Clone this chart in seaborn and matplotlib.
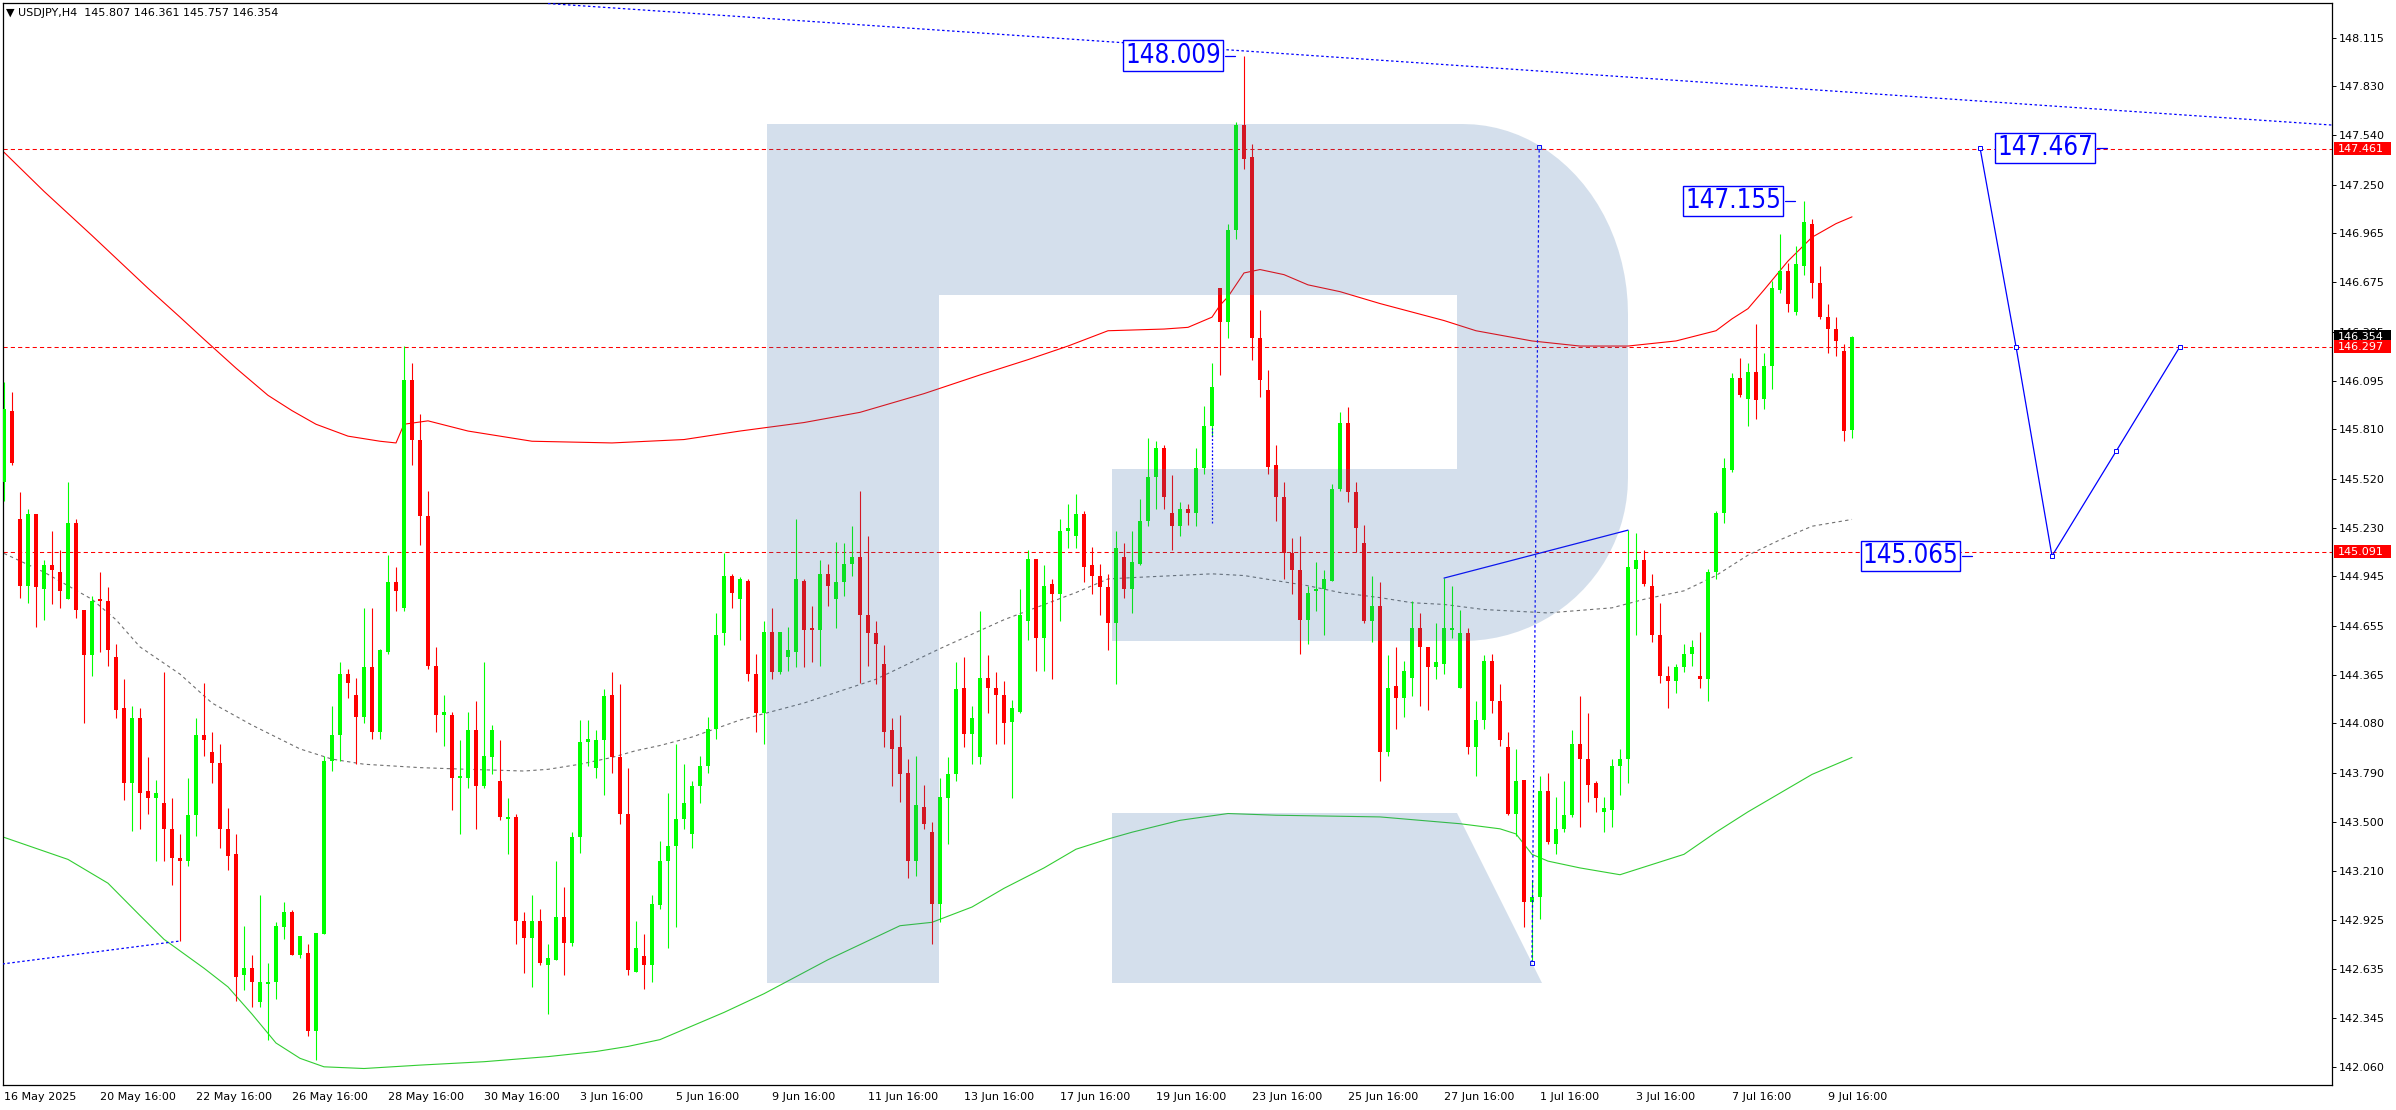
import numpy as np
import pandas as pd
import matplotlib
matplotlib.use("Agg")
import matplotlib.pyplot as plt
import matplotlib.font_manager as fm
import seaborn as sns
from matplotlib.path import Path
from matplotlib.patches import PathPatch, Rectangle

# USDJPY H4 candles
opens = [145.50,145.92,145.28,144.89,145.31,144.87,145.01,144.97,144.81,145.26,
144.75,144.48,144.81,144.80,144.47,144.17,143.73,144.11,143.68,143.64,
143.61,143.46,143.29,143.27,143.54,144.01,143.91,143.85,143.46,143.31,
142.60,142.64,142.44,142.55,142.56,142.88,142.97,142.72,142.73,142.27,
142.84,143.86,144.01,144.37,144.25,144.12,144.41,144.03,144.50,144.91,
144.76,146.10,145.75,145.30,144.42,144.13,144.13,143.76,143.76,144.04,
143.71,143.88,143.74,143.52,143.53,142.92,142.82,142.92,142.66,142.69,
142.94,142.79,143.41,143.97,143.82,143.98,144.25,143.88,143.55,142.62,
142.71,142.66,143.01,143.27,143.36,143.52,143.43,143.71,143.83,144.05,
144.61,144.95,144.81,144.92,144.37,144.14,144.62,144.38,144.47,144.50,
144.92,144.64,144.63,144.96,144.81,144.91,145.02,145.06,144.72,144.61,
144.43,144.04,143.94,143.79,143.27,143.59,143.44,143.02,143.64,143.78,
144.29,144.02,143.88,144.35,144.29,144.25,144.09,144.15,144.68,145.05,
144.58,144.90,144.84,145.21,145.18,145.31,145.01,144.95,144.88,144.67,
145.06,144.87,145.02,145.27,145.53,145.70,145.32,145.24,145.34,145.32,
145.58,145.83,146.64,146.44,146.98,147.60,147.41,146.35,146.04,145.60,
145.41,145.08,144.98,144.69,144.86,144.87,144.92,145.46,145.85,145.44,
145.14,144.68,144.77,143.91,144.30,144.23,144.35,144.64,144.53,144.41,
144.43,144.63,144.29,144.61,143.94,144.10,144.45,144.21,143.94,143.55,
143.75,143.03,143.06,143.68,143.37,143.46,143.54,143.96,143.87,143.73,
143.56,143.57,143.83,143.87,144.99,145.04,144.89,144.60,144.36,144.33,
144.41,144.49,144.36,144.34,144.97,145.32,145.57,146.11,145.99,146.15,
145.99,146.18,146.63,146.74,146.50,146.77,147.02,146.67,146.47,146.40,
146.27,145.807]
highs = [146.09,146.03,145.44,145.34,145.31,145.04,145.21,145.10,145.50,145.28,
144.75,144.83,144.97,144.88,144.55,144.34,144.18,144.17,143.88,143.75,
144.38,143.64,143.43,143.76,144.11,144.32,144.03,143.96,143.58,143.43,
142.89,142.72,143.07,142.67,142.91,143.03,142.98,142.83,142.78,142.85,
143.89,144.18,144.44,144.40,144.35,144.76,144.76,144.52,145.07,145.00,
146.30,146.20,145.90,145.45,144.53,144.25,144.15,143.98,144.15,144.21,
144.44,144.07,143.98,143.64,143.55,142.97,143.07,142.99,142.78,143.27,
143.12,143.44,144.10,144.10,144.04,144.28,144.38,144.31,143.82,142.92,
142.84,143.07,143.39,143.67,143.96,143.84,143.74,143.89,144.12,144.73,
145.08,144.96,144.94,144.93,144.49,144.68,144.76,144.62,144.65,145.28,
144.93,144.77,145.04,145.02,145.15,145.14,145.24,145.45,145.18,144.68,
144.54,144.11,144.13,143.87,143.89,143.72,143.50,143.76,143.88,144.44,
144.47,144.18,144.74,144.48,144.38,144.33,144.22,144.87,145.10,145.05,
145.01,144.93,145.28,145.37,145.43,145.33,145.12,145.02,144.96,145.21,
145.14,145.21,145.40,145.76,145.74,145.72,145.54,145.38,145.37,145.70,
145.95,146.20,146.64,147.02,147.62,148.009,147.49,146.51,146.16,145.72,
145.50,145.17,145.18,144.89,145.03,144.98,145.49,145.91,145.94,145.50,
145.25,144.95,144.91,144.48,144.53,144.45,144.80,144.73,144.53,144.67,
144.935,144.89,144.75,144.64,144.21,144.48,144.49,144.31,144.03,143.93,
143.75,143.16,143.77,143.79,143.65,143.74,144.04,144.24,144.14,143.74,
143.65,143.87,143.93,145.217,145.20,145.10,144.96,144.79,144.42,144.43,
144.55,144.57,144.62,144.99,145.33,145.64,146.14,146.23,146.20,146.43,
146.26,146.68,146.96,146.79,146.89,147.155,147.05,146.77,146.55,146.47,
146.31,146.361]
lows = [145.39,145.60,144.82,144.79,144.65,144.69,144.78,144.76,144.81,144.70,
144.08,144.36,144.50,144.42,144.11,143.63,143.45,143.46,143.55,143.27,
143.27,143.13,142.80,143.24,143.42,143.89,143.73,143.35,143.22,142.45,
142.51,142.41,142.41,142.22,142.46,142.81,142.72,142.70,142.24,142.10,
142.84,143.80,143.86,144.23,143.84,144.08,143.99,143.99,144.49,144.74,
144.74,145.60,145.13,144.40,144.03,143.95,143.57,143.43,143.70,143.46,
143.70,143.78,143.51,143.31,142.78,142.61,142.53,142.66,142.37,142.69,
142.60,142.77,143.32,143.83,143.76,143.66,143.79,143.49,142.60,142.62,
142.52,142.56,142.99,142.76,142.88,143.46,143.35,143.61,143.79,143.99,
144.54,144.76,144.57,144.33,144.03,143.96,144.34,144.37,144.39,144.41,
144.41,144.44,144.42,144.77,144.64,144.83,144.95,144.32,144.42,144.31,
143.94,143.71,143.62,143.17,143.18,143.46,142.78,142.91,143.37,143.74,
143.94,143.84,143.84,144.14,143.96,143.96,143.64,144.14,144.57,144.39,
144.39,144.34,144.68,145.11,145.11,144.91,144.84,144.72,144.51,144.31,
144.82,144.73,145.01,145.24,145.34,145.34,145.10,145.18,145.25,145.24,
145.55,145.77,146.13,146.35,146.93,147.34,146.22,146.00,145.55,145.27,
144.93,144.84,144.49,144.55,144.74,144.60,144.92,145.45,145.38,145.09,
144.67,144.56,143.74,143.89,144.05,144.12,144.24,144.18,144.16,144.34,
144.37,144.58,144.29,143.90,143.77,144.05,144.14,143.95,143.54,143.42,
142.88,142.673,142.93,143.37,143.31,143.44,143.53,143.47,143.62,143.56,
143.44,143.47,143.66,143.73,144.60,144.89,144.56,144.32,144.17,144.26,
144.38,144.42,144.29,144.21,144.93,145.26,145.56,146.00,145.83,145.87,
145.93,146.05,146.61,146.50,146.48,146.72,146.58,146.46,146.26,146.24,
145.74,145.757]
closes = [145.93,145.61,144.89,145.31,144.88,145.01,144.98,144.86,145.26,144.75,
144.48,144.80,144.80,144.51,144.16,143.73,144.11,143.67,143.64,143.67,
143.46,143.29,143.27,143.54,144.01,143.98,143.85,143.46,143.30,142.59,
142.64,142.56,142.56,142.56,142.89,142.97,142.72,142.83,142.27,142.85,
143.86,144.01,144.37,144.32,144.12,144.41,144.03,144.51,144.91,144.86,
146.10,145.75,145.30,144.42,144.13,144.15,143.76,143.77,144.04,143.71,
143.89,144.04,143.53,143.53,142.92,142.82,142.92,142.67,142.70,142.94,
142.79,143.41,143.97,143.99,143.98,144.24,143.88,143.55,142.63,142.76,
142.66,143.02,143.27,143.36,143.52,143.61,143.71,143.83,144.05,144.60,
144.95,144.85,144.93,144.37,144.14,144.62,144.38,144.62,144.51,144.93,
144.63,144.63,144.96,144.89,144.91,145.02,145.06,144.72,144.61,144.55,
144.03,143.93,143.78,143.27,143.60,143.49,143.02,143.65,143.78,144.28,
144.02,144.11,144.35,144.29,144.25,144.08,144.17,144.72,145.05,144.58,
144.89,144.84,145.21,145.23,145.31,145.00,144.95,144.88,144.67,145.11,
144.87,145.03,145.27,145.53,145.70,145.41,145.24,145.34,145.32,145.58,
145.83,146.06,146.44,146.98,147.60,147.40,146.35,146.10,145.59,145.41,
145.08,144.98,144.69,144.85,144.87,144.93,145.46,145.85,145.44,145.23,
144.68,144.77,143.91,144.29,144.23,144.39,144.64,144.53,144.41,144.44,
144.64,144.64,144.61,143.94,144.10,144.45,144.21,143.98,143.55,143.74,
143.03,143.06,143.68,143.38,143.46,143.54,143.96,143.87,143.72,143.64,
143.58,143.83,143.87,145.00,145.04,144.90,144.60,144.36,144.33,144.41,
144.49,144.53,144.34,144.97,145.32,145.58,146.11,146.01,146.15,145.98,
146.18,146.64,146.74,146.55,146.78,147.03,146.67,146.47,146.40,146.33,
145.80,146.354]

# envelope-style indicator lines (bar index, price)
upper_x = [0,5,11,18,22,25,29,33,36,39,43,47,49,50,53,58,66,76,85,92,100,107,115,122,128,133,
           138,145,148,151,152,153,155,157,160,163,167,172,176,180,184,191,197,203,209,214,
           216,218,220,223,226,229,231]
upper_y = [147.44,147.21,146.95,146.64,146.47,146.34,146.17,146.01,145.92,145.84,145.77,145.74,145.73,
           145.84,145.86,145.80,145.74,145.73,145.75,145.80,145.85,145.91,146.02,146.13,146.22,
           146.30,146.39,146.40,146.41,146.47,146.54,146.59,146.73,146.75,146.72,146.66,146.62,
           146.55,146.50,146.45,146.39,146.33,146.30,146.30,146.33,146.39,146.46,146.52,146.63,
           146.80,146.94,147.02,147.06]
mid_x = [0,5,11,14,17,22,26,31,37,41,45,52,58,65,68,72,76,79,82,86,89,92,100,109,117,125,134,
         138,142,151,155,159,163,167,172,176,180,185,193,201,205,210,214,218,222,226,231]
mid_y = [145.08,144.97,144.81,144.69,144.53,144.37,144.20,144.07,143.93,143.87,143.84,143.82,
         143.81,143.80,143.81,143.84,143.88,143.92,143.95,144.00,144.05,144.10,144.20,144.34,
         144.52,144.69,144.85,144.93,144.94,144.96,144.95,144.92,144.89,144.85,144.82,144.79,
         144.78,144.75,144.73,144.76,144.81,144.86,144.95,145.07,145.16,145.24,145.28]
lower_x = [0,8,13,17,20,25,28,31,34,37,40,45,52,60,68,74,78,82,85,90,95,103,112,116,121,125,
           130,134,138,141,147,153,159,172,182,187,189,191,193,197,202,210,214,218,222,226,231]
lower_y = [143.41,143.28,143.14,142.95,142.81,142.64,142.53,142.37,142.20,142.11,142.06,142.05,
           142.07,142.09,142.12,142.15,142.18,142.22,142.28,142.38,142.49,142.69,142.89,142.91,
           143.00,143.11,143.23,143.34,143.40,143.44,143.51,143.55,143.54,143.53,143.49,143.46,
           143.43,143.31,143.27,143.23,143.19,143.31,143.44,143.56,143.67,143.78,143.88]

levels = [147.461, 146.297, 145.091]
trend_top_x = [68, 291]
trend_top_y = [148.315, 147.60]
trend_low_x = [-0.2, 22]
trend_low_y = [142.665, 142.80]
highs_link_x = [180, 203]
highs_link_y = [144.935, 145.217]
target_x = [191, 191.9]
target_y = [142.673, 147.47]
gap_x = [151, 151]
gap_y = [145.26, 145.82]
forecast_x = [247, 251.5, 256, 264, 272]
forecast_y = [147.467, 146.297, 145.065, 145.68, 146.297]
# (text, right edge bar, price)
price_tags = [("148.009", 152.6, 148.009), ("147.155", 222.6, 147.155),
              ("147.467", 261.6, 147.467), ("145.065", 244.75, 145.065)]

yticks = [148.115,147.830,147.540,147.250,146.965,146.675,146.385,146.095,145.810,145.520,
          145.230,144.945,144.655,144.365,144.080,143.790,143.500,143.210,142.925,142.635,
          142.345,142.060]
xtick_pos = list(range(0, 229, 12))
xtick_lab = ["16 May 2025","20 May 16:00","22 May 16:00","26 May 16:00","28 May 16:00",
             "30 May 16:00","3 Jun 16:00","5 Jun 16:00","9 Jun 16:00","11 Jun 16:00",
             "13 Jun 16:00","17 Jun 16:00","19 Jun 16:00","23 Jun 16:00","25 Jun 16:00",
             "27 Jun 16:00","1 Jul 16:00","3 Jul 16:00","7 Jul 16:00","9 Jul 16:00"]

sns.set_style("white")
plt.rcParams['font.family'] = ['DejaVu Sans']

# narrow face for the big blue price tags
font_names = {f.name for f in fm.fontManager.ttflist}
tag_kw = dict(family='Liberation Sans', fontsize=19)
if 'Liberation Sans Narrow' in font_names:
    tag_kw = dict(family='Liberation Sans Narrow', fontsize=22)
elif any(f.name == 'DejaVu Sans' and 'ondensed' in f.fname for f in fm.fontManager.ttflist):
    tag_kw = dict(family='DejaVu Sans', fontstretch='condensed', fontsize=18.5)

W, H = 2396, 1110
fig = plt.figure(figsize=(W / 100, H / 100), dpi=100)
ax = fig.add_axes([3 / W, (H - 1085) / H, (2332 - 3) / W, (1085 - 3) / H])
ax.set_xlim(-0.125, 291)
ax.set_ylim(141.953, 148.318)

df = pd.DataFrame({'open': opens, 'high': highs, 'low': lows, 'close': closes})
df['bar'] = np.arange(len(df))
col = np.where(df['close'] >= df['open'], '#00ff00', '#ff0000')

# levels
for lv in levels:
    ax.axhline(lv, color='#ff0000', lw=0.75, ls=(0, (4, 3)), zorder=2)

# indicator lines
sns.lineplot(x=upper_x, y=upper_y, ax=ax, color='#ff0000', lw=0.8, estimator=None, sort=False, zorder=2)
sns.lineplot(x=mid_x, y=mid_y, ax=ax, color='#707070', lw=0.8, estimator=None, sort=False,
             linestyle=(0, (3, 3)), zorder=2)
sns.lineplot(x=lower_x, y=lower_y, ax=ax, color='#32cd32', lw=0.8, estimator=None, sort=False, zorder=2)

# candles
ax.vlines(df['bar'], df['low'], df['high'], colors=col, lw=0.8, zorder=3)
ax.bar(df['bar'], np.maximum((df['close'] - df['open']).abs(), 0.007),
       bottom=np.minimum(df['open'], df['close']), width=0.62, color=col, lw=0, zorder=4)

# blue drawings
blue = '#0000ff'
ax.plot(trend_top_x, trend_top_y, color=blue, lw=0.9, ls=(0, (2, 2)), zorder=5)
ax.plot(trend_low_x, trend_low_y, color=blue, lw=0.9, ls=(0, (2, 2)), zorder=5)
ax.plot(target_x, target_y, color=blue, lw=0.9, ls=(0, (2, 2)), zorder=5,
        marker='s', ms=3.5, mfc='white', mec=blue, mew=0.7)
ax.plot(gap_x, gap_y, color=blue, lw=0.9, ls=(0, (1.5, 1.5)), zorder=5)
ax.plot(highs_link_x, highs_link_y, color=blue, lw=0.9, zorder=5)
ax.plot(forecast_x, forecast_y, color=blue, lw=0.9, zorder=5,
        marker='s', ms=3.5, mfc='white', mec=blue, mew=0.7)

for txt, xr, p in price_tags:
    ax.text(xr - 0.45, p, txt, ha='right', va='center', color=blue,
            bbox=dict(boxstyle='square,pad=0.08', fc='white', ec=blue, lw=1.0), zorder=7, **tag_kw)
    ax.plot([xr, xr + 1.3], [p, p], color=blue, lw=0.9, zorder=7)

# axes styling
ax.yaxis.tick_right()
ax.set_yticks(yticks)
ax.set_yticklabels([f"{t:.3f}" for t in yticks])
ax.set_xticks(xtick_pos)
ax.set_xticklabels(xtick_lab)
for t in ax.get_xticklabels():
    t.set_ha('left')
ax.tick_params(axis='y', direction='out', length=3, width=0.7, labelsize=8, pad=2,
               right=True, left=False, colors='black')
ax.tick_params(axis='x', direction='out', length=3, width=0.7, labelsize=8, pad=2, colors='black')
for s in ax.spines.values():
    s.set_color('black')
    s.set_linewidth(0.9)
ax.grid(False)
ax.set_xlabel("")
ax.set_ylabel("")

fig.text(6 / W, 1 - 13 / H, "\u25bc USDJPY,H4  145.807 146.361 145.757 146.354",
         fontsize=8, va='center', ha='left', color='black')

# overlay in pixel coordinates: watermark and axis price boxes
ov = fig.add_axes([0, 0, 1, 1], zorder=5)
ov.set_xlim(0, W)
ov.set_ylim(H, 0)
ov.axis('off')
ov.patch.set_visible(False)


def ypix(p):
    return H - ax.transData.transform((0, p))[1]


def corner(cx, cy, rx, ry, a0, a1, n=24):
    t = np.radians(np.linspace(a0, a1, n))
    return list(zip(cx + rx * np.cos(t), cy - ry * np.sin(t)))


outer = [(767, 124)] + corner(1463, 314, 165, 190, 90, 0) + corner(1463, 478, 165, 163, 0, -90) + \
        [(1112, 641), (1112, 469), (1457, 469), (1457, 295), (939, 295), (939, 983), (767, 983), (767, 124)]
leg = [(1112, 813), (1457, 813), (1542, 983), (1112, 983), (1112, 813)]
for poly in (outer, leg):
    ov.add_patch(PathPatch(Path(poly), fc='#3c6fa7', ec='none', alpha=0.216))


def axis_box(p, txt, fc):
    y = ypix(p)
    ov.add_patch(Rectangle((2334, y - 6.5), 57, 13, fc=fc, ec='none'))
    ov.text(2338, y, txt, color='white', fontsize=8, va='center', ha='left')


axis_box(147.461, "147.461", '#ff0000')
axis_box(146.354, "146.354", '#000000')
axis_box(146.297, "146.297", '#ff0000')
axis_box(145.091, "145.091", '#ff0000')

fig.savefig("out.png", dpi=100)
